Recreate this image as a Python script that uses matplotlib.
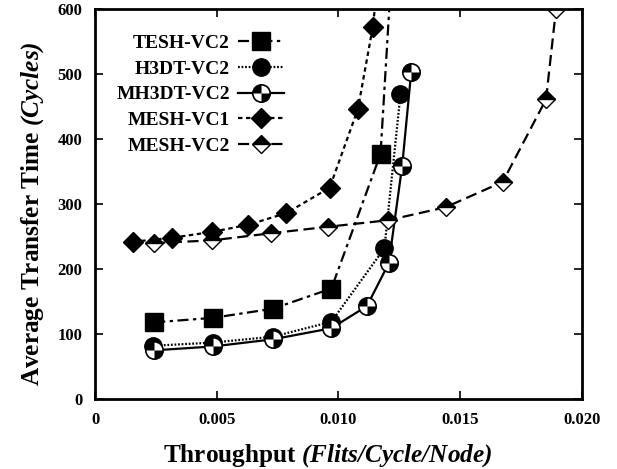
import numpy as np
import matplotlib
matplotlib.use("Agg")
import matplotlib.pyplot as plt
from matplotlib.path import Path

plt.rcParams['font.family'] = ['Liberation Serif', 'DejaVu Serif']
plt.rcParams['font.weight'] = 'bold'
plt.rcParams['mathtext.fontset'] = 'custom'
plt.rcParams['mathtext.rm'] = 'Liberation Serif:italic:bold'
plt.rcParams['mathtext.it'] = 'Liberation Serif:italic:bold'

# data
tesh_x = [0.00243, 0.00485, 0.00731, 0.00971, 0.01173, 0.01225]
tesh_y = [118, 125, 139, 170, 377, 700]

h3dt_x = [0.00239, 0.00485, 0.00731, 0.00971, 0.01189, 0.01255]
h3dt_y = [82, 87, 96, 119, 232, 469]

mh3dt_x = [0.00243, 0.00485, 0.00731, 0.00971, 0.01117, 0.01207, 0.01262, 0.01299]
mh3dt_y = [75, 81, 92, 109, 143, 209, 359, 503]

mesh1_x = [0.00157, 0.00315, 0.00479, 0.00629, 0.00786, 0.00964, 0.0108, 0.01141, 0.0118]
mesh1_y = [242, 248, 257, 268, 286, 325, 446, 572, 700]

mesh2_x = [0.00243, 0.00479, 0.00722, 0.00957, 0.01203, 0.0144, 0.01675, 0.01853, 0.01894]
mesh2_y = [240, 244, 255, 265, 275, 295, 334, 461, 600]

labels = ['TESH-VC2', 'H3DT-VC2', 'MH3DT-VC2', 'MESH-VC1', 'MESH-VC2']

# circle with top-left and bottom-right quarters filled
t1 = np.linspace(np.pi / 2, np.pi, 20)
t2 = np.linspace(1.5 * np.pi, 2 * np.pi, 20)
verts = [(0, 0)] + list(zip(np.cos(t1), np.sin(t1))) + [(0, 0)] \
    + list(zip(np.cos(t2), np.sin(t2))) + [(0, 0)]
quarters = Path(verts)

fig = plt.figure(figsize=(6.17, 4.69), dpi=100)
ax = fig.add_axes([0.154, 0.149, 0.789, 0.832])

lw = 1.6
ms = 12.5

l1, = ax.plot(tesh_x, tesh_y, color='k', lw=lw, dashes=(5, 2, 1.5, 2),
              marker='s', ms=ms, mfc='k', mec='k')
l2, = ax.plot(h3dt_x, h3dt_y, color='k', lw=lw, dashes=(0.8, 0.8),
              marker='o', ms=ms, mfc='k', mec='k')
l3a, = ax.plot(mh3dt_x, mh3dt_y, color='k', lw=lw, ls='-',
               marker='o', ms=ms, mfc='white', mec='k', mew=1.2)
l3b, = ax.plot(mh3dt_x, mh3dt_y, ls='none', marker=quarters,
               ms=ms, mfc='k', mec='none')
l4, = ax.plot(mesh1_x, mesh1_y, color='k', lw=lw, dashes=(2, 1.6),
              marker='D', ms=10, mfc='k', mec='k')
l5, = ax.plot(mesh2_x, mesh2_y, color='k', lw=lw, dashes=(5, 2.5),
              marker='D', ms=9.5, fillstyle='top', mfc='k', mfcalt='white',
              mec='k', mew=1.0)

ax.set_xlim(0, 0.020)
ax.set_ylim(0, 600)
ax.set_xticks([0, 0.005, 0.010, 0.015, 0.020])
ax.set_xticklabels(['0', '0.005', '0.010', '0.015', '0.020'])
ax.set_yticks([0, 100, 200, 300, 400, 500, 600])
ax.tick_params(direction='in', top=True, right=True, length=6, width=1.2,
               labelsize=12, pad=9)
for s in ax.spines.values():
    s.set_linewidth(2)

ax.set_xlabel(r"Throughput $(Flits/Cycle/Node)$", fontsize=18.2,
              fontweight='bold')
ax.set_ylabel(r"Average Transfer Time $(Cycles)$", fontsize=18.2,
              fontweight='bold')
ax.xaxis.set_label_coords(0.478, -0.11)
ax.yaxis.set_label_coords(-0.101, 0.475)

leg = ax.legend([l1, l2, (l3a, l3b), l4, l5], labels,
                loc='upper left', bbox_to_anchor=(0.008, 0.98), frameon=False,
                markerfirst=False, fontsize=14, handlelength=2.4,
                handletextpad=0.4, labelspacing=0.42, numpoints=1)

fig.savefig("out.png", dpi=100)
